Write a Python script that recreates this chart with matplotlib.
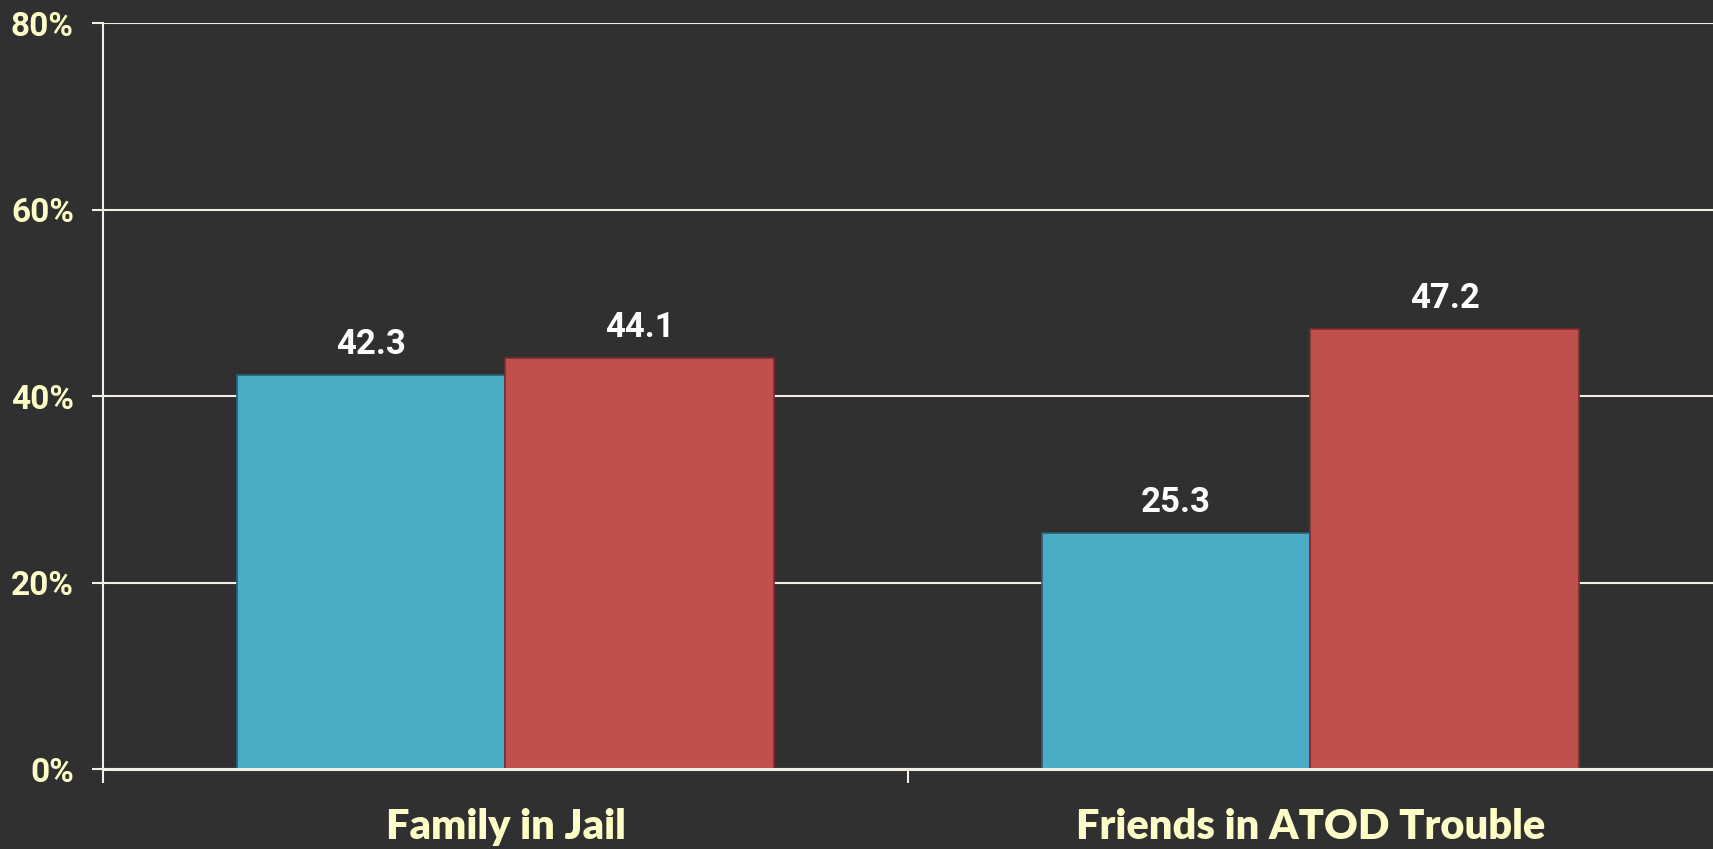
import numpy as np
import matplotlib
matplotlib.use("Agg")
import matplotlib.pyplot as plt
from matplotlib.ticker import FixedLocator, PercentFormatter

categories = ["Family in Jail", "Friends in ATOD Trouble"]
series_a = [42.3, 25.3]
series_b = [44.1, 47.2]
y_ticks = [0, 20, 40, 60, 80]

bg = "#303030"
cream = "#F2F0E4"
label_yellow = "#FFFFC8"
blue, blue_edge = "#4BACC6", "#2A5F6E"
red, red_edge = "#C0504D", "#7A2D2B"

fig = plt.figure(figsize=(17.13, 8.49), dpi=100, facecolor=bg)
ax = fig.add_axes([0.0601, 0.0942, 0.9399, 0.8787], facecolor=bg)

x = np.arange(len(categories))
w = 0.334
bars_a = ax.bar(x - w / 2, series_a, w, color=blue, edgecolor=blue_edge,
                linewidth=1.2, zorder=3)
bars_b = ax.bar(x + w / 2, series_b, w, color=red, edgecolor=red_edge,
                linewidth=1.2, zorder=3)

num_font = dict(family=["Roboto", "DejaVu Sans"], weight="bold")
for bars, vals in ((bars_a, series_a), (bars_b, series_b)):
    for b, v in zip(bars, vals):
        ax.annotate(f"{v:.1f}", (b.get_x() + b.get_width() / 2, v),
                    xytext=(0, 10), textcoords="offset points",
                    ha="center", va="bottom", color="white",
                    fontsize=25, **num_font)

ax.set_xlim(-0.5, len(categories) - 0.5)
ax.set_ylim(0, 80)
ax.set_yticks(y_ticks)
ax.yaxis.set_major_formatter(PercentFormatter(decimals=0))
ax.grid(axis="y", color=cream, linewidth=1.5, zorder=0)
ax.set_axisbelow(True)

# category labels at the centres, separator ticks between groups
ax.set_xticks(x)
ax.set_xticklabels(categories)
ax.xaxis.set_minor_locator(FixedLocator(np.arange(len(categories)) - 0.5))
ax.tick_params(axis="x", which="major", length=0, pad=28)
ax.tick_params(axis="x", which="minor", length=10, width=1.5, color=cream)
ax.tick_params(axis="y", length=8, width=1.5, color=cream, pad=13)

for lab in ax.get_yticklabels():
    lab.set_fontfamily(num_font["family"])
    lab.set_fontweight("bold")
    lab.set_fontsize(24)
    lab.set_color(label_yellow)
for lab in ax.get_xticklabels():
    lab.set_fontfamily(["Lato", "DejaVu Sans"])
    lab.set_fontweight("heavy")
    lab.set_fontsize(30)
    lab.set_color(label_yellow)

for s in ("top", "right"):
    ax.spines[s].set_visible(False)
ax.spines["left"].set_color(cream)
ax.spines["left"].set_linewidth(1.5)
ax.spines["bottom"].set_color(cream)
ax.spines["bottom"].set_linewidth(2.2)
ax.spines["bottom"].set_zorder(4)

fig.savefig("out.png", facecolor=bg)
